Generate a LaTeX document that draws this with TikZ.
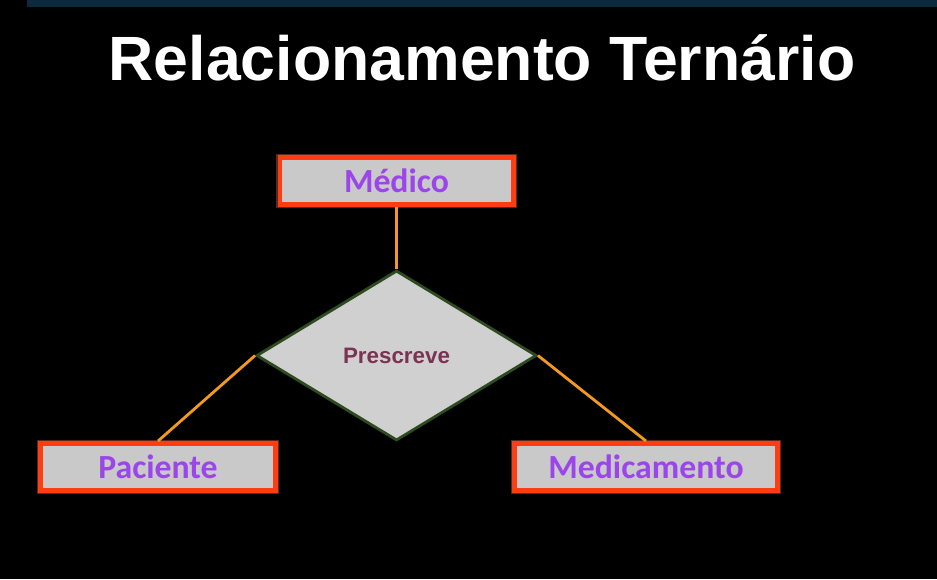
\documentclass[tikz,border=0pt]{standalone}
\usepackage{fontspec}
\setmainfont{Liberation Sans}
\newfontfamily\boxfont{Carlito}
\usetikzlibrary{shapes.geometric, positioning}

\definecolor{stripblue}{HTML}{0B2A3E}
\definecolor{boxgray}{HTML}{C9C9C9}
\definecolor{boxred}{HTML}{FF3D12}
\definecolor{entpurple}{HTML}{9B45EA}
\definecolor{linkorange}{HTML}{F39A1E}
\definecolor{relgray}{HTML}{D0D0D0}
\definecolor{relgreen}{HTML}{2E4B1F}
\definecolor{relwine}{HTML}{7B3353}

\begin{document}
\begin{tikzpicture}[
					x=0.025cm, y=-0.025cm,
					entity/.style={rectangle, draw=boxred, line width=3.5pt, fill=boxgray, inner sep=0pt, minimum height=1.175cm, text=entpurple, font=\boxfont\bfseries\fontsize{24}{28}\selectfont, preaction={draw=boxred!70, line width=5.5pt, opacity=0.35}},
					relation/.style={diamond, draw=relgreen, line width=2pt, fill=relgray, inner sep=0pt, minimum width=7cm, minimum height=4.25cm, text=relwine, font=\bfseries\fontsize{15.9}{18}\selectfont},
					link/.style={draw=linkorange, line width=2pt}
					]
					\fill[black] (0,0) rectangle (937,579);
					\fill[stripblue] (27,0) rectangle (937,7);
					
					\node (title) [anchor=base, text=white, font=\bfseries\fontsize{44.5}{50}\selectfont] at (482,80) {Relacionamento Ternário};
					
					\node (rel) [relation] at (396.5,355.5) {Prescreve};
					\node (med) [entity, minimum width=5.825cm, above=1.55cm of rel] {Médico};
					\node (pac) [entity, minimum width=5.875cm] at (158,467) {Paciente};
					\node (medi) [entity, minimum width=6.575cm] at (646,467) {Medicamento};
					
					\draw [link] (med) -- (rel);
					\draw [link] (rel.west) -- (pac.north);
					\draw [link] (rel.east) -- (medi.north);
				\end{tikzpicture}
\end{document}
